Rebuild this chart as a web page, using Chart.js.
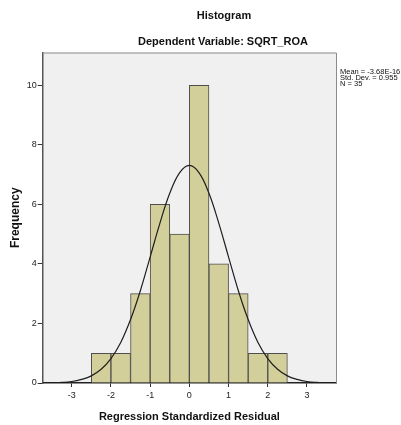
<!DOCTYPE html>
<html>
<head>
<meta charset="utf-8">
<title>Histogram</title>
<script src="https://cdn.jsdelivr.net/npm/chart.js"></script>
<style>
  html, body { margin: 0; padding: 0; background: #fff; }
</style>
</head>
<body>
<canvas id="hist" width="401" height="425"></canvas>
<script>
// histogram bins (centre of each 0.5-wide bin) and counts
const binCenters = [-2.25, -1.75, -1.25, -0.75, -0.25, 0.25, 0.75, 1.25, 1.75, 2.25];
const frequencies = [1, 1, 3, 6, 5, 10, 4, 3, 1, 1];

// normal curve
const curveX = [-3.75, -3.5, -3.25, -3, -2.75, -2.5, -2.25, -2, -1.75, -1.5, -1.25, -1, -0.75, -0.5, -0.25, 0,
                0.25, 0.5, 0.75, 1, 1.25, 1.5, 1.75, 2, 2.25, 2.5, 2.75, 3, 3.25, 3.5, 3.75];
const curveY = [0.00, 0.01, 0.02, 0.05, 0.12, 0.24, 0.46, 0.82, 1.36, 2.13, 3.10, 4.23, 5.37, 6.37, 7.06, 7.31,
                7.06, 6.37, 5.37, 4.23, 3.10, 2.13, 1.36, 0.82, 0.46, 0.24, 0.12, 0.05, 0.02, 0.01, 0.00];

const xTicks = [-3, -2, -1, 0, 1, 2, 3];
const yTicks = [0, 2, 4, 6, 8, 10];
const titleLines = ['Histogram', 'Dependent Variable: SQRT_ROA'];
const statsLines = ['Mean = -3.68E-16', 'Std. Dev. = 0.955', 'N = 35'];

const FONT = '"Liberation Sans", Arial, sans-serif';

const frame = {
  id: 'frame',
  beforeDraw(chart) {
    const { ctx, chartArea: a } = chart;
    ctx.save();
    ctx.fillStyle = '#f0f0f0';
    ctx.fillRect(a.left, a.top, a.right - a.left, a.bottom - a.top);
    ctx.restore();
  },
  afterDraw(chart) {
    const { ctx, chartArea: a } = chart;
    ctx.save();
    ctx.strokeStyle = '#8c8c8c';
    ctx.lineWidth = 1;
    ctx.beginPath();
    ctx.moveTo(a.left, a.top + 0.5);
    ctx.lineTo(a.right + 0.5, a.top + 0.5);
    ctx.lineTo(a.right + 0.5, a.bottom);
    ctx.stroke();

    ctx.fillStyle = '#111';
    ctx.textAlign = 'center';
    ctx.textBaseline = 'middle';
    ctx.font = 'bold 11px ' + FONT;
    ctx.fillText(titleLines[0], 224, 16);
    ctx.fillText(titleLines[1], 223, 42);

    ctx.textAlign = 'left';
    ctx.font = '7.5px ' + FONT;
    statsLines.forEach((s, i) => ctx.fillText(s, 340, 72 + i * 6));
    ctx.restore();
  }
};

new Chart(document.getElementById('hist'), {
  data: {
    datasets: [
      {
        type: 'line',
        data: curveX.map((x, i) => ({ x, y: curveY[i] })),
        borderColor: '#1e1e1e',
        borderWidth: 1.2,
        pointRadius: 0,
        tension: 0.4,
        fill: false,
        order: 0
      },
      {
        type: 'bar',
        data: binCenters.map((x, i) => ({ x, y: frequencies[i] })),
        backgroundColor: '#d3cf9a',
        borderColor: '#4e4e4e',
        borderWidth: 1,
        barPercentage: 1,
        categoryPercentage: 1,
        order: 1
      }
    ]
  },
  options: {
    responsive: false,
    animation: false,
    devicePixelRatio: 1,
    layout: { padding: { top: 52.5, right: 65, bottom: 0, left: 0 } },
    plugins: {
      legend: { display: false },
      tooltip: { enabled: false }
    },
    scales: {
      x: {
        type: 'linear',
        offset: false,
        min: -3.74,
        max: 3.74,
        afterBuildTicks: s => { s.ticks = xTicks.map(v => ({ value: v })); },
        afterFit: s => { s.height = 42; },
        grid: { offset: false, drawOnChartArea: false, tickLength: 4, color: '#333' },
        border: { color: '#222', width: 1.5 },
        ticks: { autoSkip: false, maxRotation: 0, padding: 3, color: '#222', font: { family: FONT, size: 9 } },
        title: {
          display: true,
          text: 'Regression Standardized Residual',
          color: '#111',
          font: { family: FONT, size: 11, weight: 'bold' },
          padding: { top: 0, bottom: 1.5 }
        }
      },
      y: {
        min: 0,
        max: 11.1,
        afterBuildTicks: s => { s.ticks = yTicks.map(v => ({ value: v })); },
        afterFit: s => { s.width = 42.7; },
        grid: { drawOnChartArea: false, tickLength: 5, color: '#333' },
        border: { color: '#555', width: 1.5 },
        ticks: { autoSkip: false, padding: 1, color: '#222', font: { family: FONT, size: 9 } },
        title: {
          display: true,
          text: 'Frequency',
          color: '#111',
          font: { family: FONT, size: 12, weight: 'bold' },
          padding: { top: 8.8, bottom: 0 }
        }
      }
    }
  },
  plugins: [frame]
});
</script>
</body>
</html>
